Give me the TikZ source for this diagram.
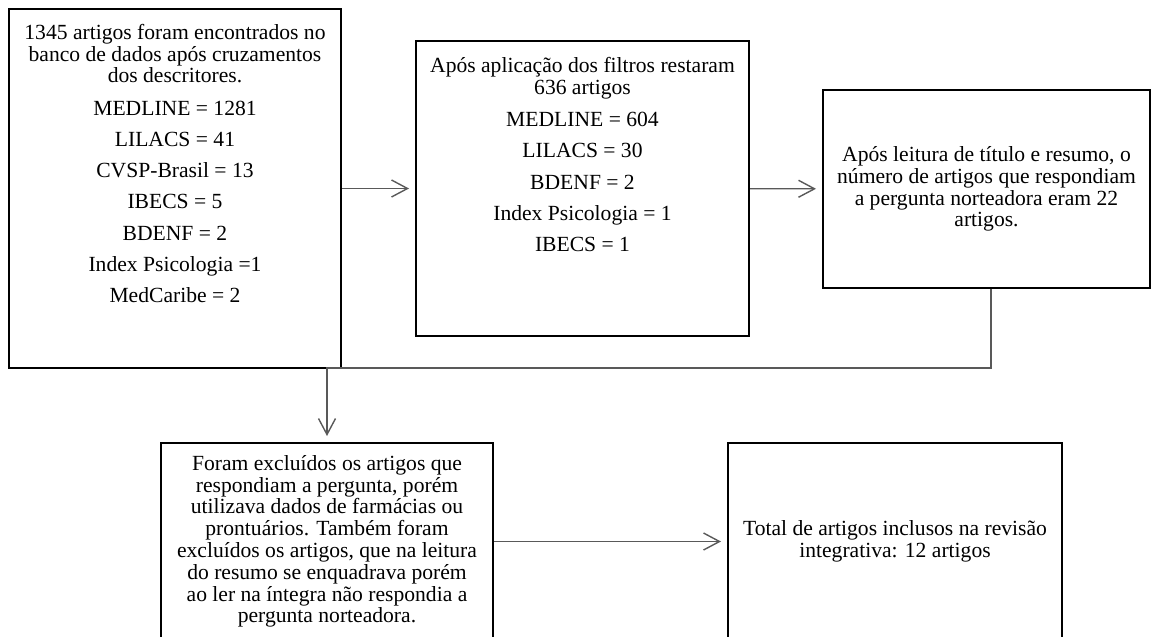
\documentclass[tikz,border=0pt]{standalone}
\usepackage{fontspec}
\setmainfont{Liberation Serif}
\usetikzlibrary{arrows.meta}
\tikzset{%
  box/.style = {
    shape=rectangle, draw=black, line width=2pt,
    align=center, inner sep=0pt,
    font=\fontsize{21.6}{21.8}\selectfont
  },
  link/.style = {draw=black!65, line width=1.4pt,
    -{Straight Barb[length=16pt,width=17pt]}, shorten >=6pt}
}

\begin{document}
\begin{tikzpicture}[x=1pt,y=-1pt]
  \useasboundingbox (0,0) rectangle (1151,637);
  \node[box, minimum width=332pt, minimum height=359pt] (busca) at (175,188.5)
    {\parbox[c][329pt][t]{330pt}{\centering
      1345 artigos foram encontrados no\\
      banco de dados após cruzamentos\\
      dos descritores.\\[11pt]
      MEDLINE = 1281\\[9.3pt]
      LILACS = 41\\[9.3pt]
      CVSP-Brasil = 13\\[9.3pt]
      IBECS = 5\\[9.3pt]
      BDENF = 2\\[9.3pt]
      Index Psicologia =1\\[9.3pt]
      MedCaribe = 2}};
  \node[box, minimum width=333pt, minimum height=295pt] (filtro) at (582.5,188.5)
    {\parbox[c][263pt][t]{330pt}{\centering
      Após aplicação dos filtros restaram\\
      636 artigos\\[11pt]
      MEDLINE = 604\\[9.3pt]
      LILACS = 30\\[9.3pt]
      BDENF = 2\\[9.3pt]
      Index Psicologia = 1\\[9.3pt]
      IBECS = 1}};
  \node[box, minimum width=327pt, minimum height=198pt] (leitura) at (986.5,189)
    {Após leitura de título e resumo, o\\
     número de artigos que respondiam\\
     a pergunta norteadora eram 22\\
     artigos.};
  \node[box, minimum width=332pt, minimum height=197pt] (exclusao) at (327,541.5)
    {Foram excluídos os artigos que\\
     respondiam a pergunta, porém\\
     utilizava dados de farmácias ou\\
     prontuários. Também foram\\
     excluídos os artigos, que na leitura\\
     do resumo se enquadrava porém\\
     ao ler na íntegra não respondia a\\
     pergunta norteadora.};
  \node[box, minimum width=334pt, minimum height=197pt] (total) at (895,541.5)
    {Total de artigos inclusos na revisão\\
     integrativa: 12 artigos};
  \draw[link] (busca) -- (filtro);
  \draw[link] (filtro) -- (leitura);
  \draw[link] ([xshift=4.5pt]leitura.south) -- ++(0,79) -| (exclusao.north);
  \draw[link] (exclusao) -- (total);
\end{tikzpicture}
\end{document}
